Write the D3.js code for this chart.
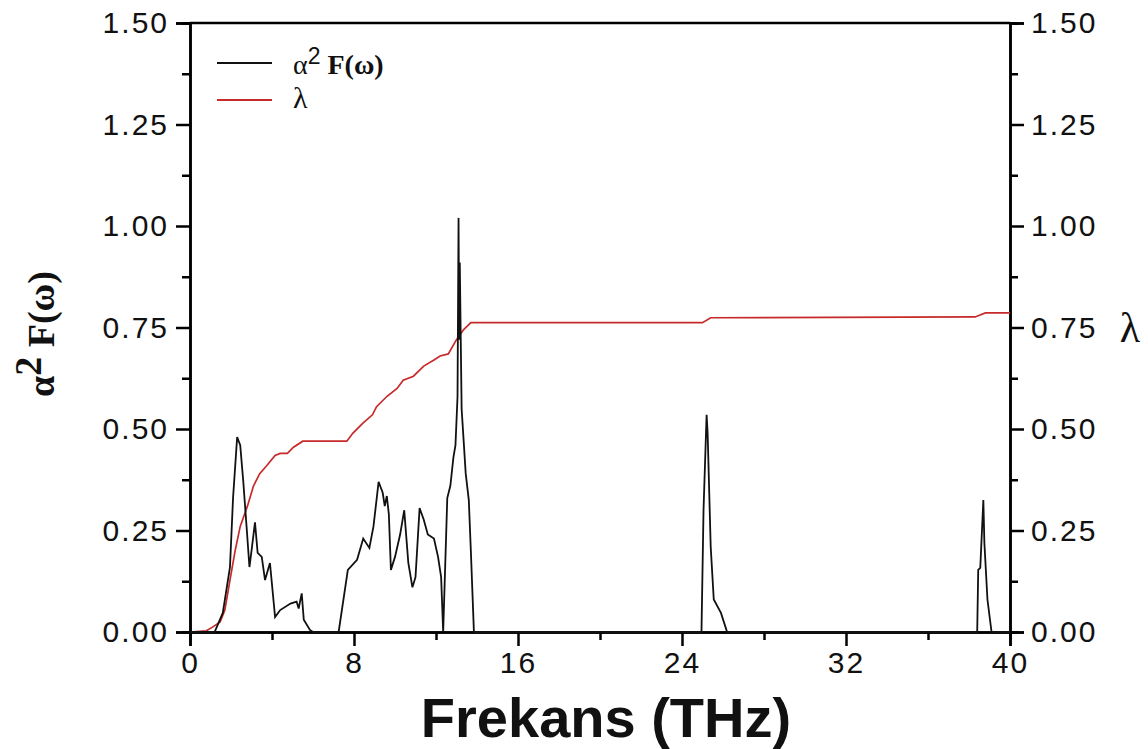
<!DOCTYPE html>
<html>
<head>
<meta charset="utf-8">
<script src="https://cdn.jsdelivr.net/npm/d3@7"></script>
<style>
  body { margin: 0; background: #fff; }
  .tick text { font-family: "Liberation Sans", Arial, sans-serif; }
</style>
</head>
<body>
<svg id="chart" width="1148" height="749"></svg>
<script>
// frequency (THz) vs alpha^2 F(omega)
var a2fPoints = [[0,0],[1.2,0],[1.6,0.047],[1.95,0.16],[2.1,0.33],[2.3,0.48],[2.45,0.46],[2.6,0.37],[2.78,0.245],[2.9,0.16],
  [3.0,0.2],[3.17,0.27],[3.3,0.195],[3.5,0.185],[3.66,0.128],[3.9,0.17],[4.15,0.037],[4.4,0.054],[4.9,0.07],[5.2,0.075],
  [5.3,0.058],[5.45,0.095],[5.55,0.03],[5.85,0.005],[6.0,0],[7.25,0],[7.7,0.153],[8.15,0.178],[8.45,0.23],[8.75,0.207],
  [8.95,0.26],[9.2,0.37],[9.4,0.343],[9.5,0.31],[9.6,0.335],[9.7,0.29],[9.8,0.153],[10.0,0.185],[10.25,0.24],[10.45,0.30],
  [10.55,0.235],[10.65,0.17],[10.85,0.11],[11.0,0.135],[11.2,0.305],[11.4,0.277],[11.6,0.24],[11.9,0.23],[12.1,0.185],
  [12.25,0.135],[12.35,0],[12.55,0.33],[12.7,0.36],[12.85,0.43],[12.95,0.46],[13.05,0.58],[13.1,1.02],[13.13,0.72],
  [13.16,0.91],[13.25,0.55],[13.45,0.39],[13.6,0.325],[13.7,0.2],[13.85,0],[24.95,0],[25.05,0.3],[25.2,0.535],[25.25,0.49],
  [25.4,0.21],[25.55,0.08],[25.9,0.047],[26.2,0],[38.4,0],[38.45,0.153],[38.55,0.158],[38.7,0.325],[38.75,0.22],
  [38.9,0.08],[39.1,0],[40,0]];

// cumulative lambda
var lambdaPoints = [[0,0],[0.8,0.003],[1.1,0.012],[1.47,0.025],[1.7,0.054],[1.95,0.128],[2.2,0.2],[2.45,0.26],[2.8,0.31],
  [3.1,0.36],[3.4,0.39],[3.75,0.41],[4.15,0.435],[4.4,0.44],[4.75,0.44],[5.05,0.455],[5.5,0.47],[7.65,0.47],[7.95,0.49],
  [8.45,0.515],[8.9,0.535],[9.1,0.555],[9.6,0.58],[10.1,0.6],[10.4,0.62],[10.9,0.63],[11.4,0.655],[11.9,0.67],[12.2,0.68],
  [12.6,0.685],[13.0,0.72],[13.35,0.745],[13.7,0.762],[25.0,0.762],[25.4,0.774],[38.3,0.776],[38.8,0.786],[40,0.786]];

var xTicks = [0, 8, 16, 24, 32, 40];
var xMinorTicks = [4, 12, 20, 28, 36];
var yTicks = [0, 0.25, 0.5, 0.75, 1.0, 1.25, 1.5];
var yMinorTicks = [0.125, 0.375, 0.625, 0.875, 1.125, 1.375];

var svg = d3.select("#chart");
var margin = {left: 190, right: 138, top: 23, bottom: 117};
var width = 1148 - margin.left - margin.right,
    height = 749 - margin.top - margin.bottom;

var x = d3.scaleLinear().domain([0, 40]).range([margin.left, margin.left + width]);
var y = d3.scaleLinear().domain([0, 1.5]).range([margin.top + height, margin.top]);

function styleAxis(g) {
    g.select(".domain").attr("stroke", "#000").attr("stroke-width", 2.5);
    g.selectAll(".tick line").attr("stroke", "#000").attr("stroke-width", 2.5);
    g.selectAll(".tick text").attr("font-size", 30).attr("letter-spacing", 2).attr("fill", "#111");
}

// minor ticks first
svg.append("g").attr("transform", "translate(0," + y(0) + ")")
    .call(d3.axisBottom(x).tickValues(xMinorTicks).tickSize(8).tickFormat(""))
    .call(styleAxis);
svg.append("g").attr("transform", "translate(" + x(0) + ",0)")
    .call(d3.axisLeft(y).tickValues(yMinorTicks).tickSize(8).tickFormat(""))
    .call(styleAxis);
svg.append("g").attr("transform", "translate(" + x(40) + ",0)")
    .call(d3.axisRight(y).tickValues(yMinorTicks).tickSize(8).tickFormat(""))
    .call(styleAxis);

// major
svg.append("g").attr("transform", "translate(0," + y(0) + ")")
    .call(d3.axisBottom(x).tickValues(xTicks).tickSize(14).tickPadding(6).tickFormat(d3.format("d")))
    .call(styleAxis);
svg.append("g").attr("transform", "translate(" + x(0) + ",0)")
    .call(d3.axisLeft(y).tickValues(yTicks).tickSize(14).tickPadding(7).tickFormat(d3.format(".2f")))
    .call(styleAxis);
svg.append("g").attr("transform", "translate(" + x(40) + ",0)")
    .call(d3.axisRight(y).tickValues(yTicks).tickSize(14).tickPadding(7).tickFormat(d3.format(".2f")))
    .call(styleAxis);

// top frame line
svg.append("line")
    .attr("x1", x(0)).attr("x2", x(40))
    .attr("y1", y(1.5)).attr("y2", y(1.5))
    .attr("stroke", "#000").attr("stroke-width", 2.5);

var line = d3.line().x(d => x(d[0])).y(d => y(d[1]));

svg.append("path").datum(lambdaPoints)
    .attr("d", line)
    .attr("fill", "none").attr("stroke", "#c62a2a").attr("stroke-width", 1.7);

svg.append("path").datum(a2fPoints)
    .attr("d", line)
    .attr("fill", "none").attr("stroke", "#111").attr("stroke-width", 1.8);

// legend
var serif = "'Liberation Serif', 'DejaVu Serif', serif";
svg.append("line").attr("x1", 217).attr("x2", 272).attr("y1", 63).attr("y2", 63)
    .attr("stroke", "#111").attr("stroke-width", 2.2);
svg.append("line").attr("x1", 217).attr("x2", 272).attr("y1", 100).attr("y2", 100)
    .attr("stroke", "#c62a2a").attr("stroke-width", 2.2);

var lg1 = svg.append("text").attr("x", 293).attr("y", 74)
    .attr("font-family", serif).attr("font-size", 28).attr("fill", "#111");
lg1.append("tspan").text("α");
lg1.append("tspan").attr("dy", -10).attr("font-family", "'Liberation Sans', Arial, sans-serif").attr("font-size", 23).text("2");
lg1.append("tspan").attr("dy", 10).attr("font-weight", "bold").text(" F(ω)");

svg.append("text").attr("x", 293).attr("y", 108)
    .attr("font-family", serif).attr("font-size", 30).attr("fill", "#111")
    .text("λ");

// axis titles
svg.append("text")
    .attr("x", 606).attr("y", 737)
    .attr("text-anchor", "middle")
    .attr("font-family", "'Liberation Sans', Arial, sans-serif")
    .attr("font-weight", "bold").attr("font-size", 56).attr("fill", "#111")
    .text("Frekans (THz)");

var yl = svg.append("text")
    .attr("transform", "translate(54,334) rotate(-90)")
    .attr("text-anchor", "middle")
    .attr("font-family", serif).attr("font-weight", "bold")
    .attr("font-size", 38).attr("fill", "#111");
yl.append("tspan").text("α");
yl.append("tspan").attr("dy", -13).text("2");
yl.append("tspan").attr("dy", 13).text(" F(ω)");

svg.append("text")
    .attr("x", 1130).attr("y", 342)
    .attr("text-anchor", "middle")
    .attr("font-family", serif).attr("font-size", 42).attr("fill", "#111")
    .text("λ");
</script>
</body>
</html>
